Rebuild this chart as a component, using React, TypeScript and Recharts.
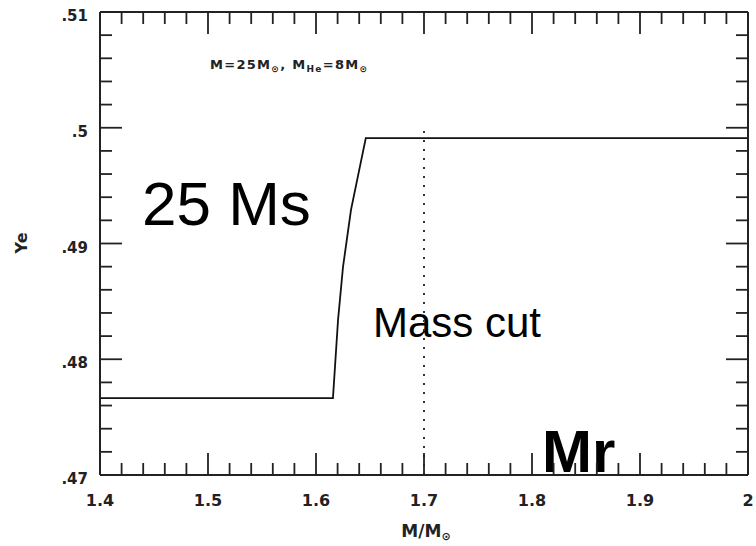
import { Line, LineChart, ReferenceLine, XAxis, YAxis } from "recharts";

// Electron fraction profile of the 25 Msun model around the mass cut
const massCoord = [1.4, 1.6157, 1.6204, 1.625, 1.6324, 1.6461, 2.0];
const yeValues = [0.47665, 0.47665, 0.48339, 0.48797, 0.4929, 0.49911, 0.49911];

const massCut = 1.7;

const xTicks = [
  1.4, 1.42, 1.44, 1.46, 1.48, 1.5, 1.52, 1.54, 1.56, 1.58, 1.6, 1.62, 1.64, 1.66, 1.68, 1.7,
  1.72, 1.74, 1.76, 1.78, 1.8, 1.82, 1.84, 1.86, 1.88, 1.9, 1.92, 1.94, 1.96, 1.98, 2.0,
];
const xMajor = [1.4, 1.5, 1.6, 1.7, 1.8, 1.9, 2.0];
const xLabels = ["1.4", "1.5", "1.6", "1.7", "1.8", "1.9", "2"];

const yTicks = [
  0.47, 0.472, 0.474, 0.476, 0.478, 0.48, 0.482, 0.484, 0.486, 0.488, 0.49, 0.492, 0.494,
  0.496, 0.498, 0.5, 0.502, 0.504, 0.506, 0.508, 0.51,
];
const yMajor = [0.47, 0.48, 0.49, 0.5, 0.51];
const yLabels = [".47", ".48", ".49", ".5", ".51"];

const data = massCoord.map((m, i) => ({ m, ye: yeValues[i] }));

const INK = "#222";
const SCAN_FONT = "'DejaVu Sans', sans-serif";
const PPT_FONT = "'Liberation Sans', Arial, sans-serif";
const MINOR = 12;
const MAJOR = 22;

function majorIndex(list: number[], v: number) {
  return list.findIndex((t) => Math.abs(t - v) < 1e-6);
}

function BottomTick({ x, y, payload }: any) {
  const idx = majorIndex(xMajor, payload.value);
  const len = idx >= 0 ? MAJOR : MINOR;
  return (
    <g>
      <line x1={x} x2={x} y1={y} y2={y - len} stroke={INK} strokeWidth={1.8} />
      {idx >= 0 && (
        <text
          x={x}
          y={y + 31}
          textAnchor="middle"
          fontFamily={SCAN_FONT}
          fontWeight="bold"
          fontSize={16}
          fill={INK}
        >
          {xLabels[idx]}
        </text>
      )}
    </g>
  );
}

function TopTick({ x, y, payload }: any) {
  const len = majorIndex(xMajor, payload.value) >= 0 ? MAJOR : MINOR;
  return <line x1={x} x2={x} y1={y} y2={y + len} stroke={INK} strokeWidth={1.8} />;
}

function LeftTick({ x, y, payload }: any) {
  const idx = majorIndex(yMajor, payload.value);
  const len = idx >= 0 ? MAJOR : MINOR;
  return (
    <g>
      <line x1={x} x2={x + len} y1={y} y2={y} stroke={INK} strokeWidth={1.8} />
      {idx >= 0 && (
        <text
          x={x - 12}
          y={y + 9}
          textAnchor="end"
          fontFamily={SCAN_FONT}
          fontWeight="bold"
          fontSize={15}
          fill={INK}
        >
          {yLabels[idx]}
        </text>
      )}
    </g>
  );
}

// short inward tick at the right end of a horizontal reference line
function rightTickShape(len: number) {
  return (props: any) => {
    const x1 = Number(props.x1);
    const x2 = Number(props.x2);
    const y = Number(props.y1);
    const edge = Math.max(x1, x2);
    return <line x1={edge} x2={edge - len} y1={y} y2={y} stroke={INK} strokeWidth={1.8} />;
  };
}

export default function App() {
  return (
    <div style={{ position: "absolute", left: 0, top: 0, background: "#fff" }}>
      <LineChart width={756} height={546} data={data} margin={{ top: 0, right: 0, bottom: 0, left: 0 }}>
        <XAxis
          dataKey="m"
          type="number"
          domain={[1.4, 2]}
          ticks={xTicks}
          interval={0}
          height={71}
          tickSize={0}
          tickMargin={0}
          tickLine={false}
          axisLine={{ stroke: INK, strokeWidth: 2 }}
          tick={<BottomTick />}
          allowDataOverflow
        />
        <XAxis
          xAxisId="top"
          dataKey="m"
          orientation="top"
          type="number"
          domain={[1.4, 2]}
          ticks={xTicks}
          interval={0}
          height={12}
          tickSize={0}
          tickMargin={0}
          tickLine={false}
          axisLine={{ stroke: INK, strokeWidth: 2 }}
          tick={<TopTick />}
          allowDataOverflow
        />
        <YAxis
          dataKey="ye"
          type="number"
          domain={[0.47, 0.51]}
          ticks={yTicks}
          interval={0}
          width={100}
          tickSize={0}
          tickMargin={0}
          tickLine={false}
          axisLine={{ stroke: INK, strokeWidth: 2 }}
          tick={<LeftTick />}
          allowDataOverflow
        />
        <YAxis
          yAxisId="right"
          dataKey="ye"
          orientation="right"
          type="number"
          domain={[0.47, 0.51]}
          width={8}
          tick={false}
          tickLine={false}
          axisLine={{ stroke: INK, strokeWidth: 2 }}
          allowDataOverflow
        />
        {yTicks.map((v) => (
          <ReferenceLine
            key={v}
            y={v}
            ifOverflow="visible"
            shape={rightTickShape(majorIndex(yMajor, v) >= 0 ? MAJOR : MINOR)}
          />
        ))}
        <ReferenceLine
          segment={[
            { x: massCut, y: 0.47 },
            { x: massCut, y: 0.5001 },
          ]}
          stroke="#333"
          strokeWidth={2}
          strokeDasharray="2 7"
        />
        <Line
          type="linear"
          dataKey="ye"
          stroke="#111"
          strokeWidth={1.8}
          dot={false}
          isAnimationActive={false}
        />

        {/* model header */}
        <text
          x={210}
          y={69}
          fontFamily={SCAN_FONT}
          fontWeight="bold"
          fontSize={13}
          letterSpacing={1.3}
          fill={INK}
        >
          M=25M<tspan fontSize={9} dy={3}>⊙</tspan>
          <tspan dy={-3}>,  M</tspan>
          <tspan fontSize={9} dy={3}>He</tspan>
          <tspan dy={-3}>=8M</tspan>
          <tspan fontSize={9} dy={3}>⊙</tspan>
        </text>

        {/* axis titles */}
        <text
          x={426}
          y={537}
          textAnchor="middle"
          fontFamily={SCAN_FONT}
          fontWeight="bold"
          fontSize={17}
          fill={INK}
        >
          M/M<tspan fontSize={11} dy={3}>⊙</tspan>
        </text>
        <text
          x={27}
          y={243}
          textAnchor="middle"
          transform="rotate(-90 27 243)"
          fontFamily={SCAN_FONT}
          fontWeight="bold"
          fontSize={16}
          fill={INK}
        >
          Ye
        </text>

        {/* slide annotations */}
        <text x={142} y={225} fontFamily={PPT_FONT} fontSize={62} fill="#000">
          25 Ms
        </text>
        <text x={373} y={337} fontFamily={PPT_FONT} fontSize={42} fill="#000">
          Mass cut
        </text>
        <text x={542} y={472} fontFamily={PPT_FONT} fontWeight="bold" fontSize={60} fill="#000">
          Mr
        </text>
      </LineChart>
    </div>
  );
}
